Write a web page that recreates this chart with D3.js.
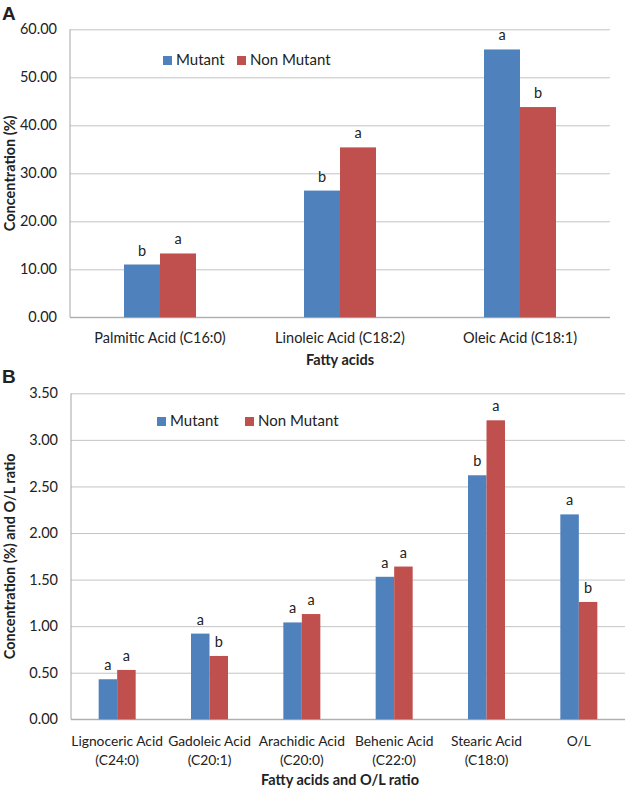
<!DOCTYPE html>
<html>
<head>
<meta charset="utf-8">
<script src="https://cdn.jsdelivr.net/npm/d3@7"></script>
<style>
    body { margin: 0; background: #fff; }
    svg text { font-family: Lato, "Open Sans", sans-serif; fill: #222; }
</style>
</head>
<body>
<div id="chart"></div>
<script>
    // Data
    series = ["Mutant", "Non Mutant"]
    colors = ["#4f81bd", "#c0504d"]

    categoriesA = [["Palmitic Acid (C16:0)"], ["Linoleic Acid (C18:2)"], ["Oleic Acid (C18:1)"]]
    mutantA = [11.0, 26.4, 55.8]
    nonMutantA = [13.3, 35.4, 43.8]
    lettersMutantA = ["b", "b", "a"]
    lettersNonMutantA = ["a", "a", "b"]
    yTicksA = [0, 10, 20, 30, 40, 50, 60]

    categoriesB = [["Lignoceric Acid", "(C24:0)"], ["Gadoleic Acid", "(C20:1)"], ["Arachidic Acid", "(C20:0)"],
                   ["Behenic Acid", "(C22:0)"], ["Stearic Acid", "(C18:0)"], ["O/L"]]
    mutantB = [0.43, 0.92, 1.04, 1.53, 2.62, 2.20]
    nonMutantB = [0.53, 0.68, 1.13, 1.64, 3.21, 1.26]
    lettersMutantB = ["a", "a", "a", "a", "b", "a"]
    lettersNonMutantB = ["a", "b", "a", "a", "a", "b"]
    yTicksB = [0, 0.5, 1, 1.5, 2, 2.5, 3, 3.5]

    var svg = d3.select("#chart").append("svg")
        .attr("width", 630)
        .attr("height", 792)

    function drawPanel(p) {
        var g = svg.append("g")
        var rows = p.categories.map((c, i) => ({
            key: i, label: c,
            values: [p.mutant[i], p.nonMutant[i]],
            letters: [p.lettersMutant[i], p.lettersNonMutant[i]]
        }))

        var x0 = d3.scaleBand()
            .domain(rows.map(d => d.key))
            .range([p.left, p.right])
        var x1 = d3.scaleBand()
            .domain(series)
            .range([-p.barW, p.barW])
        var y = d3.scaleLinear()
            .domain(p.yDomain)
            .range([p.bottom, p.top])

        // gridlines + tick labels
        var yAxis = g.append("g")
            .attr("transform", `translate(${p.left},0)`)
            .call(d3.axisLeft(y).tickValues(p.yTicks).tickFormat(d3.format(".2f"))
                .tickSize(-(p.right - p.left)).tickPadding(13))
        yAxis.select(".domain").remove()
        yAxis.selectAll("line").attr("stroke", "#c4c4c4")
        yAxis.selectAll("text").attr("font-size", 14.5).attr("fill", "#222")
            .style("font-family", "Lato, sans-serif")

        // axis lines
        g.append("line")
            .attr("x1", p.left).attr("x2", p.left)
            .attr("y1", y(p.yDomain[1])).attr("y2", y(0))
            .attr("stroke", "#a6a6a6")
        g.append("line")
            .attr("x1", p.left).attr("x2", p.right)
            .attr("y1", y(0)).attr("y2", y(0))
            .attr("stroke", "#a6a6a6")

        // bars
        var grp = g.selectAll(".grp").data(rows).join("g")
            .attr("transform", d => `translate(${x0(d.key) + x0.bandwidth() / 2},0)`)
        grp.selectAll("rect")
            .data(d => d.values.map((v, j) => ({s: series[j], v: v, c: colors[j]})))
            .join("rect")
            .attr("x", d => x1(d.s))
            .attr("width", x1.bandwidth())
            .attr("y", d => y(d.v))
            .attr("height", d => y(0) - y(d.v))
            .attr("fill", d => d.c)
        grp.selectAll(".sig")
            .data(d => d.values.map((v, j) => ({s: series[j], v: v, t: d.letters[j]})))
            .join("text")
            .attr("class", "sig")
            .attr("x", d => x1(d.s) + x1.bandwidth() / 2)
            .attr("y", d => y(d.v) - 9)
            .attr("text-anchor", "middle")
            .attr("font-size", 14.5)
            .text(d => d.t)

        // category labels
        grp.append("text")
            .attr("text-anchor", "middle")
            .attr("font-size", p.labelSize)
            .selectAll("tspan")
            .data(d => d.label)
            .join("tspan")
            .attr("x", 0)
            .attr("y", (d, i) => p.labelY + i * 18.5)
            .text(d => d)

        // axis titles
        g.append("text")
            .attr("x", (p.left + p.right) / 2 - p.xTitleShift)
            .attr("y", p.xTitleY)
            .attr("text-anchor", "middle")
            .attr("font-size", 14.5)
            .attr("font-weight", "bold")
            .text(p.xTitle)
        g.append("text")
            .attr("transform", `translate(15,${(y(p.yDomain[1]) + y(0)) / 2}) rotate(-90)`)
            .attr("text-anchor", "middle")
            .attr("font-size", 14.5)
            .attr("font-weight", "bold")
            .text(p.yTitle)

        // panel letter
        g.append("text")
            .attr("x", 2).attr("y", p.letterY)
            .attr("font-size", 19)
            .attr("font-weight", "bold")
            .style("font-family", "'Liberation Sans', Arial, sans-serif")
            .text(p.letter)

        // legend
        var leg = g.selectAll(".leg").data(series).join("g")
            .attr("transform", (d, i) => `translate(${p.legendX[i]},${p.legendY})`)
        leg.append("rect")
            .attr("x", 0).attr("y", -9)
            .attr("width", 9).attr("height", 9)
            .attr("fill", (d, i) => colors[i])
        leg.append("text")
            .attr("x", 13).attr("y", 0)
            .attr("font-size", 15)
            .text(d => d)
    }

    drawPanel({
        letter: "A", letterY: 20,
        categories: categoriesA, mutant: mutantA, nonMutant: nonMutantA,
        lettersMutant: lettersMutantA, lettersNonMutant: lettersNonMutantA,
        yTicks: yTicksA, yDomain: [0, 60],
        left: 70, right: 610, top: 29.3, bottom: 317.3, barW: 36,
        labelY: 343, labelSize: 14.5, xTitle: "Fatty acids", xTitleY: 365, xTitleShift: 0,
        yTitle: "Concentration (%)",
        legendX: [163, 237], legendY: 65
    })

    drawPanel({
        letter: "B", letterY: 383,
        categories: categoriesB, mutant: mutantB, nonMutant: nonMutantB,
        lettersMutant: lettersMutantB, lettersNonMutant: lettersNonMutantB,
        yTicks: yTicksB, yDomain: [0, 3.5],
        left: 71, right: 625, top: 393.3, bottom: 719.3, barW: 18.5,
        labelY: 746, labelSize: 13.8, xTitle: "Fatty acids and O/L ratio", xTitleY: 785, xTitleShift: 8,
        yTitle: "Concentration (%) and O/L ratio",
        legendX: [157, 245], legendY: 426
    })
</script>
</body>
</html>
